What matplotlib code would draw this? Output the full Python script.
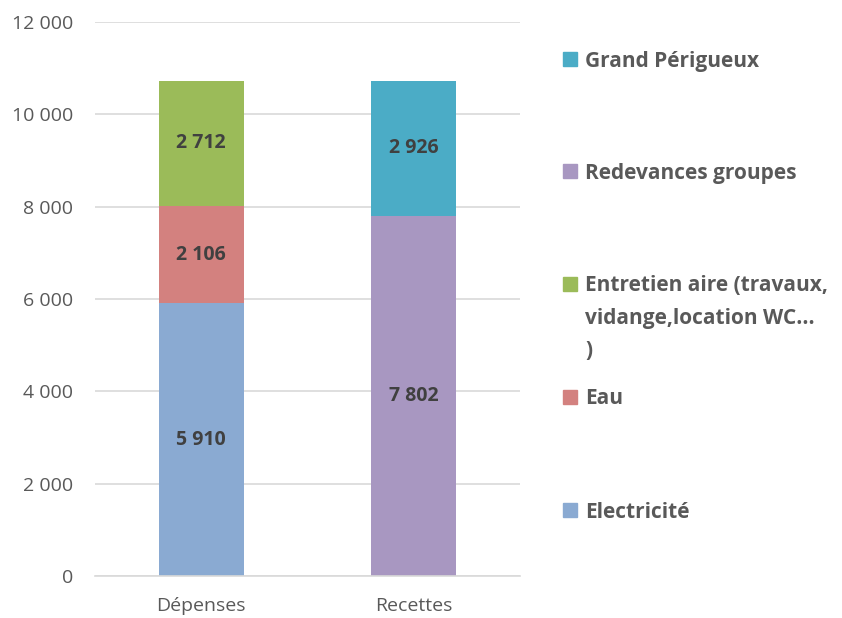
import matplotlib.pyplot as plt
from matplotlib.patches import Rectangle
from matplotlib.ticker import FuncFormatter

# Data
categories = ["Dépenses", "Recettes"]
series_names = ["Electricité", "Eau", "Entretien aire (travaux,\nvidange,location WC...\n)",
                "Redevances groupes", "Grand Périgueux"]
electricite = [5910, 0]
eau = [2106, 0]
entretien = [2712, 0]
redevances = [0, 7802]
grand_perigueux = [0, 2926]
colors = ["#8AAAD2", "#D3817F", "#9BBB59", "#A897C1", "#4BACC6"]

# legend y positions (figure pixels from top), drawn top to bottom
legend_y = [510, 397, 284, 171, 59]


def fmt_thousands(v):
    return f"{int(round(v)):,}".replace(",", " ")


fig = plt.figure(figsize=(8.42, 6.18), dpi=100)
ax = fig.add_axes([95 / 842, 42 / 618, 425 / 842, 554 / 618])

font = "Open Sans"
series = [electricite, eau, entretien, redevances, grand_perigueux]
x = list(range(len(categories)))
bottom = [0, 0]
for vals, col in zip(series, colors):
    bars = ax.bar(x, vals, 0.4, bottom=bottom, color=col, zorder=2)
    labels = [fmt_thousands(v) if v else "" for v in vals]
    ax.bar_label(bars, labels=labels, label_type="center", fontsize=14,
                 fontweight="bold", color="#404040", family=font)
    bottom = [b + v for b, v in zip(bottom, vals)]

ax.set_xlim(-0.5, 1.5)
ax.set_ylim(0, 12000)
ax.set_yticks(range(0, 12001, 2000))
ax.yaxis.set_major_formatter(FuncFormatter(lambda v, p: fmt_thousands(v)))
ax.set_xticks(x)
ax.set_xticklabels(categories)
ax.grid(axis="y", color="#D9D9D9", linewidth=1.2, zorder=0)
for s in ["top", "right", "left"]:
    ax.spines[s].set_visible(False)
ax.spines["bottom"].set_color("#D9D9D9")
ax.spines["bottom"].set_linewidth(1.2)
ax.tick_params(axis="both", length=0, labelsize=14, labelcolor="#595959")
ax.tick_params(axis="x", pad=15)
ax.tick_params(axis="y", pad=16)
for t in ax.get_xticklabels() + ax.get_yticklabels():
    t.set_family(font)

# legend drawn by hand
for name, col, yp in zip(series_names, colors, legend_y):
    yf = 1 - yp / 618
    fig.patches.append(Rectangle((563 / 842, yf - 7 / 618), 14 / 842, 14 / 618,
                                 transform=fig.transFigure, color=col))
    fig.text(585 / 842, yf + 8.5 / 618, name, ha="left", va="top", fontsize=15,
             fontweight="bold", color="#595959", family=font, linespacing=1.7)

fig.savefig("out.png", dpi=100)
